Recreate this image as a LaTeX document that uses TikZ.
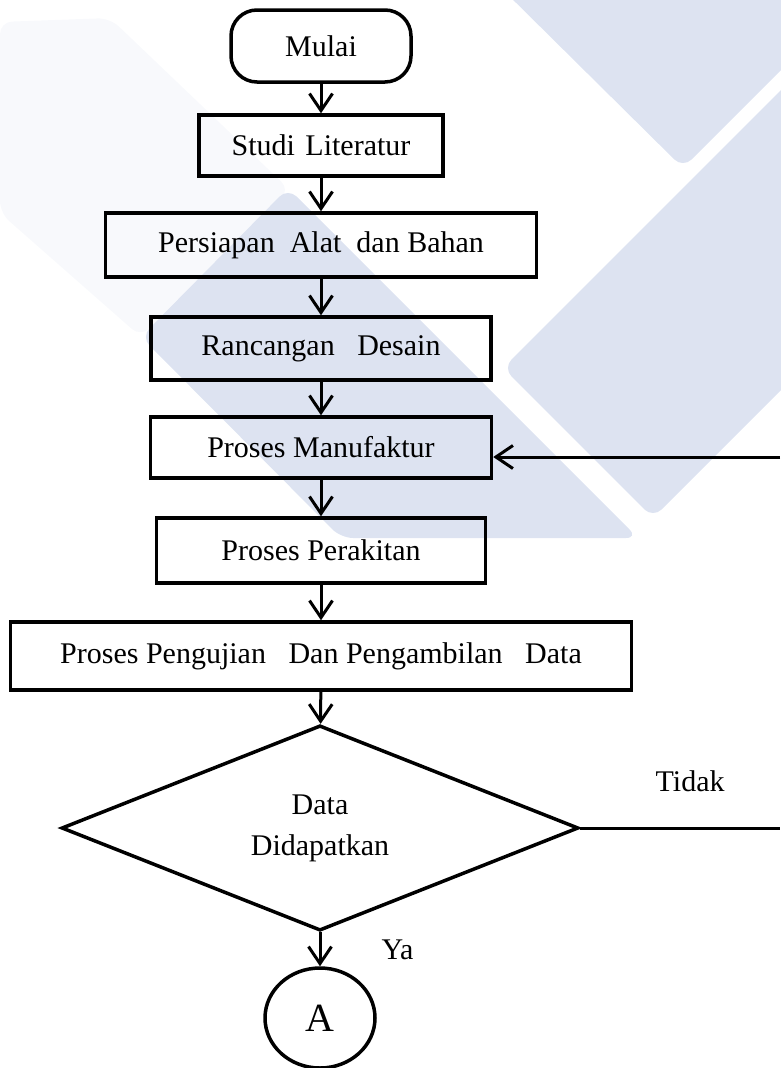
\documentclass[tikz,border=0pt]{standalone}
\usepackage{fontspec}
\setmainfont{Liberation Serif}
\usetikzlibrary{positioning,arrows.meta,shapes.geometric}
\definecolor{WMBlue}{RGB}{221,227,241}
\definecolor{WMFaint}{RGB}{248,249,252}

\begin{document}
\begin{tikzpicture}[x=1pt,y=-1pt]
	\tikzset{
		blk/.style={draw=black, line width=3.5pt, inner sep=0pt, minimum height=62pt,
			font=\fontsize{30}{36}\selectfont},
		trm/.style={blk, rounded corners=26pt},
		dcs/.style={diamond, draw=black, line width=3.5pt, inner sep=0pt, align=center,
			minimum width=517pt, minimum height=192pt, font=\fontsize{30}{41}\selectfont},
		cnr/.style={ellipse, draw=black, line width=3.5pt, inner sep=0pt,
			minimum width=110pt, minimum height=100pt, font=\fontsize{40}{44}\selectfont},
		ln/.style={draw=black, line width=3pt},
		ar/.style={ln, -{Straight Barb[length=17pt,width=23pt,line width=3pt]}},
		lbl/.style={font=\fontsize{30}{36}\selectfont, inner sep=0pt},
		wm/.style={fill=WMBlue, rounded corners=12pt}
	}
	\useasboundingbox (0,0) rectangle (780,1068);
	% watermark
	\fill[fill=WMFaint, rounded corners=12pt] (0,22) -- (110,18) -- (290,190) -- (141,337) -- (0,213) -- cycle;
	\fill[wm] (493,-20) -- (683,168) -- (800,51) -- (800,-20) -- cycle;
	\fill[wm] (800,71) -- (503,368) -- (653,518) -- (800,371) -- cycle;
	\fill[wm] (288,188) -- (141,337) -- (341,538) -- (638,538) -- cycle;

	% flow
	\node[trm, minimum width=180pt, minimum height=72pt] (mulai) at (321,46) {Mulai};
	\node[blk, minimum width=244pt, minimum height=61pt] (studi) at (321,145.5) {Studi\hspace{3pt} Literatur};
	\node[blk, minimum width=431pt, minimum height=64pt] (alat) at (321,245) {Persiapan~~Alat~~dan Bahan};
	\node[blk, minimum width=340pt, minimum height=63pt] (desain) at (321,348.5) {Rancangan~~~Desain};
	\node[blk, minimum width=341pt, minimum height=61pt] (manuf) at (321,447.5) {Proses Manufaktur};
	\node[blk, minimum width=329pt, minimum height=65pt] (rakit) at (321,550.5) {Proses Perakitan};
	\node[blk, minimum width=621pt, minimum height=68pt] (uji) at (321,656) {Proses Pengujian~~~Dan Pengambilan~~~Data};
	\node[dcs] (cek) at (320,828) {Data\\Didapatkan};
	\node[cnr] (hubA) at (320,1018) {A};
	\coordinate (tdk) at (780,828);
	\coordinate (balik) at (780,457);

	\draw[ar] (mulai) -- (studi);
	\draw[ar] (studi) -- (alat);
	\draw[ar] (alat) -- (desain);
	\draw[ar] (desain) -- (manuf);
	\draw[ar] (manuf) -- (rakit);
	\draw[ar] (rakit) -- (uji);
	\draw[ar] (uji) -- (cek);
	\draw[ar] (cek) -- (hubA) node[lbl, midway, right=60pt] {Ya};
	\draw[ln] (cek.east) -- (tdk) node[lbl, pos=0.55, above=35pt] {Tidak};
	\draw[ar] (balik) -- (balik -| manuf.east);
\end{tikzpicture}
\end{document}
